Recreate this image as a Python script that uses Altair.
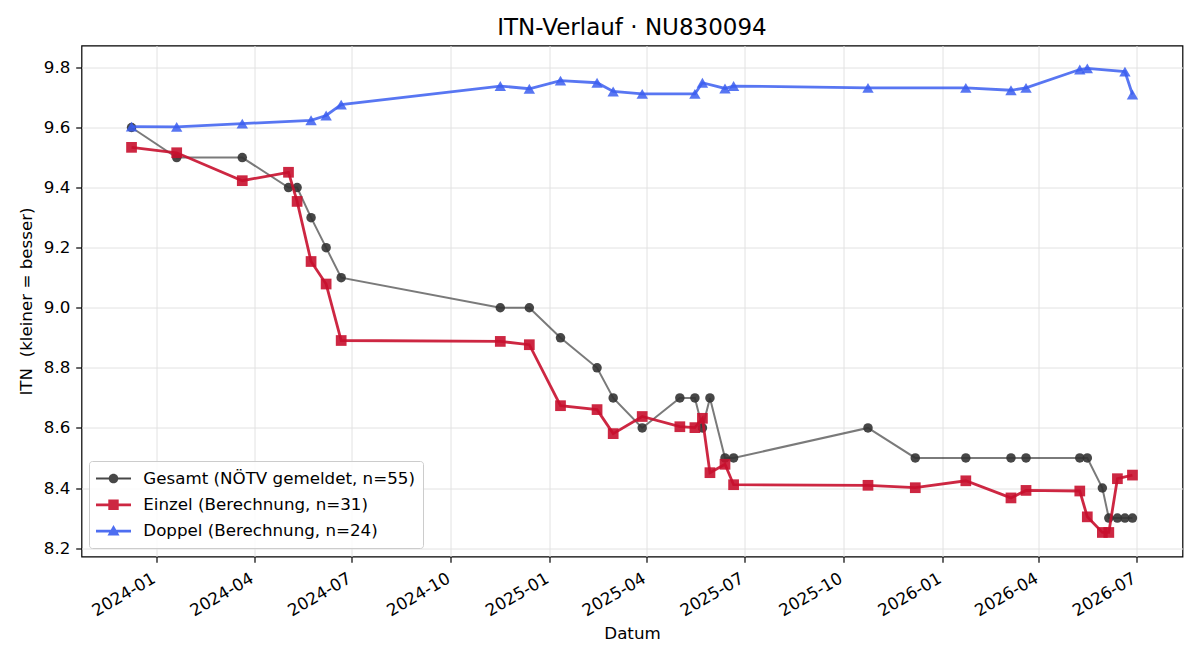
import altair as alt
import pandas as pd

# Gesamt-ITN laut NÖTV-Meldung
gesamt_datum = [
    "2023-12-09", "2024-01-20", "2024-03-21", "2024-05-03", "2024-05-11",
    "2024-05-24", "2024-06-07", "2024-06-21", "2024-11-16", "2024-12-13",
    "2025-01-11", "2025-02-14", "2025-03-01", "2025-03-28", "2025-05-02",
    "2025-05-16", "2025-05-23", "2025-05-30", "2025-06-13", "2025-06-21",
    "2025-10-24", "2025-12-07", "2026-01-23", "2026-03-06", "2026-03-20",
    "2026-05-09", "2026-05-16", "2026-05-30", "2026-06-05", "2026-06-13",
    "2026-06-20", "2026-06-27",
]
gesamt_itn = [
    9.6, 9.5, 9.5, 9.4, 9.4, 9.3, 9.2, 9.1, 9.0, 9.0,
    8.9, 8.8, 8.7, 8.6, 8.7, 8.7, 8.6, 8.7, 8.5, 8.5,
    8.6, 8.5, 8.5, 8.5, 8.5, 8.5, 8.5, 8.4, 8.3, 8.3,
    8.3, 8.3,
]

# Einzel-ITN (eigene Berechnung)
einzel_datum = [
    "2023-12-09", "2024-01-20", "2024-03-21", "2024-05-03", "2024-05-11",
    "2024-05-24", "2024-06-07", "2024-06-21", "2024-11-16", "2024-12-13",
    "2025-01-11", "2025-02-14", "2025-03-01", "2025-03-28", "2025-05-02",
    "2025-05-16", "2025-05-23", "2025-05-30", "2025-06-13", "2025-06-21",
    "2025-10-24", "2025-12-07", "2026-01-23", "2026-03-06", "2026-03-20",
    "2026-05-09", "2026-05-16", "2026-05-30", "2026-06-05", "2026-06-13",
    "2026-06-27",
]
einzel_itn = [
    9.534, 9.516, 9.423, 9.451, 9.354, 9.154, 9.079, 8.891, 8.888, 8.877,
    8.674, 8.661, 8.581, 8.638, 8.604, 8.601, 8.632, 8.451, 8.479, 8.411,
    8.409, 8.401, 8.424, 8.367, 8.392, 8.390, 8.304, 8.252, 8.252, 8.431,
    8.443,
]

# Doppel-ITN (eigene Berechnung)
doppel_datum = [
    "2023-12-09", "2024-01-20", "2024-03-21", "2024-05-24", "2024-06-07",
    "2024-06-21", "2024-11-16", "2024-12-13", "2025-01-11", "2025-02-14",
    "2025-03-01", "2025-03-28", "2025-05-16", "2025-05-23", "2025-06-13",
    "2025-06-21", "2025-10-24", "2026-01-23", "2026-03-06", "2026-03-20",
    "2026-05-09", "2026-05-16", "2026-06-20", "2026-06-27",
]
doppel_itn = [
    9.603, 9.602, 9.613, 9.624, 9.640, 9.676, 9.738, 9.729, 9.756, 9.749,
    9.720, 9.712, 9.712, 9.749, 9.730, 9.738, 9.732, 9.732, 9.724, 9.732,
    9.793, 9.797, 9.786, 9.710,
]

serien = [
    "Gesamt (NÖTV gemeldet, n=55)",
    "Einzel (Berechnung, n=31)",
    "Doppel (Berechnung, n=24)",
]
farben = ["#333333", "#c8102e", "#3b5ef0"]

y_ticks = [8.2, 8.4, 8.6, 8.8, 9.0, 9.2, 9.4, 9.6, 9.8]
x_ticks = [(2024, 1), (2024, 4), (2024, 7), (2024, 10), (2025, 1), (2025, 4),
           (2025, 7), (2025, 10), (2026, 1), (2026, 4), (2026, 7)]

FONT = "DejaVu Sans"

df_gesamt = pd.DataFrame({"Datum": gesamt_datum, "ITN": gesamt_itn, "Serie": serien[0]})
df_einzel = pd.DataFrame({"Datum": einzel_datum, "ITN": einzel_itn, "Serie": serien[1]})
df_doppel = pd.DataFrame({"Datum": doppel_datum, "ITN": doppel_itn, "Serie": serien[2]})
df_alle = pd.concat([df_gesamt, df_einzel, df_doppel], ignore_index=True)

x_enc = alt.X(
    "Datum:T",
    scale=alt.Scale(
        type="utc",
        nice=False,
        domain=[
            alt.DateTime(year=2023, month=10, date=23, hours=11, utc=True),
            alt.DateTime(year=2026, month=8, date=12, hours=13, utc=True),
        ],
    ),
    axis=alt.Axis(
        values=[alt.DateTime(year=j, month=m, date=1, utc=True) for j, m in x_ticks],
        labelExpr="utcFormat(datum.value, '%Y-%m')",
        labelAngle=-30,
        labelAlign="right",
        labelBaseline="alphabetic",
        labelPadding=19,
        title="Datum",
        titlePadding=6,
    ),
)
y_enc = alt.Y(
    "ITN:Q",
    scale=alt.Scale(domain=[8.172, 9.873], nice=False, zero=False),
    axis=alt.Axis(
        values=y_ticks,
        format=".1f",
        labelPadding=5.8,
        title="ITN \u00a0(kleiner = besser)",
        titlePadding=8,
    ),
)


def serie(df, farbe, form, groesse, breite, deck_linie, deck_punkt):
    basis = alt.Chart(df).encode(x=x_enc, y=y_enc)
    linie = basis.mark_line(color=farbe, strokeWidth=breite, opacity=deck_linie)
    punkte = basis.mark_point(
        filled=True, shape=form, size=groesse, color=farbe, opacity=deck_punkt
    )
    return [linie, punkte]


# Legendensymbole: Linienstück mit Marker in der Mitte
def balken(h):
    return f"M-1.75,{-h}H1.75V{h}H-1.75Z"


pfade = [
    balken(0.1) + " M0.48,0A0.48,0.48 0 1,1 -0.48,0A0.48,0.48 0 1,1 0.48,0Z",
    balken(0.14) + " M-0.52,-0.52H0.52V0.52H-0.52Z",
    balken(0.14) + " M0,-0.6L0.6,0.45H-0.6Z",
]

legende_def = alt.Legend(
    title=None,
    orient="none",
    legendX=7.5,
    legendY=415.5,
    padding=7.5,
    fillColor="rgba(255,255,255,0.85)",
    strokeColor="#cccccc",
    cornerRadius=3,
    labelFont=FONT,
    labelFontSize=16.7,
    labelColor="black",
    labelLimit=0,
    symbolSize=400,
    symbolStrokeWidth=0,
    symbolOffset=7,
    labelOffset=19.8,
    rowPadding=7.3,
)

legende = (
    alt.Chart(df_alle)
    .transform_filter("false")
    .mark_point(filled=True, opacity=0.9)
    .encode(
        color=alt.Color("Serie:N", scale=alt.Scale(domain=serien, range=farben), legend=legende_def),
        shape=alt.Shape("Serie:N", scale=alt.Scale(domain=serien, range=pfade), legend=legende_def),
    )
)

ebenen = (
    serie(df_gesamt, farben[0], "circle", 90, 2.0, 0.65, 0.9)
    + serie(df_einzel, farben[1], "square", 115, 2.8, 0.9, 0.9)
    + serie(df_doppel, farben[2], "triangle-up", 130, 2.8, 0.85, 0.85)
    + [legende]
)

chart = (
    alt.layer(*ebenen)
    .properties(
        width=1101,
        height=511,
        title=alt.Title("ITN-Verlauf · NU830094"),
        autosize=alt.AutoSizeParams(type="none"),
        padding={"left": 81.5, "top": 45.5, "right": 17.5, "bottom": 103.5},
        background="white",
    )
    .configure_view(stroke="black", strokeWidth=1.2)
    .configure_axis(
        grid=True,
        gridColor="#e2e2e2",
        gridWidth=1,
        domain=False,
        tickColor="black",
        tickSize=5.8,
        tickWidth=1.2,
        labelFont=FONT,
        labelFontSize=16.7,
        labelColor="black",
        titleFont=FONT,
        titleFontSize=16.7,
        titleFontWeight="normal",
        titleColor="black",
    )
    .configure_title(font=FONT, fontSize=23, fontWeight="normal", color="black",
                     anchor="middle", offset=6)
)

chart.save("out.html", embed_options={"renderer": "svg", "actions": False})
